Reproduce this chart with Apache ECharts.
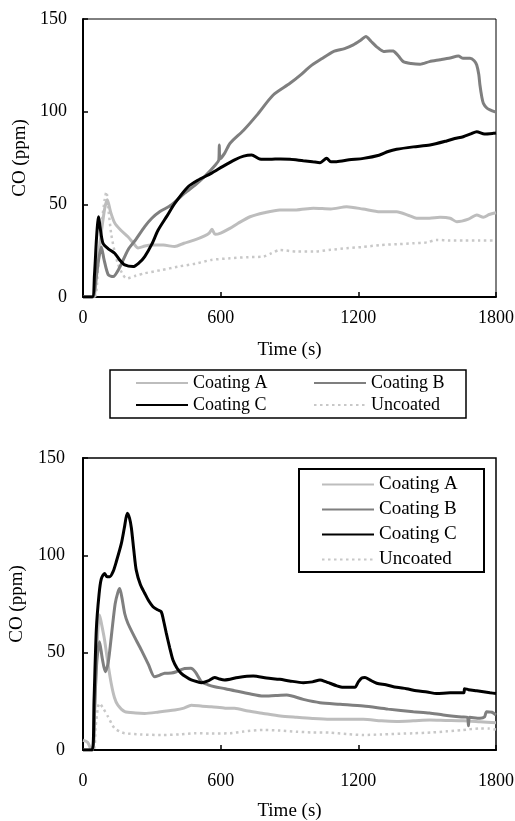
<!DOCTYPE html>
<html>
<head>
<meta charset="utf-8">
<script src="https://cdn.jsdelivr.net/npm/echarts@6/dist/echarts.min.js"></script>
<style>
  html, body { margin: 0; padding: 0; background: #fff; }
  #main { width: 515px; height: 821px; }
</style>
</head>
<body>
<div id="main"></div>
<script>
// 数据: [时间(s), CO(ppm)]
var xTicks = [0, 600, 1200, 1800];
var yTicks = [0, 50, 100, 150];
var names = ['Coating A', 'Coating B', 'Coating C', 'Uncoated'];

// 上图
var topA = [[0,0],[45,0],[60,15],[80,35],[95,48],[106,52.5],[120,46],[138,40],[165,36],[196,32.5],[220,29],[240,26.5],[270,27.5],[298,28],[350,28],[400,27.2],[440,29],[487,30.8],[530,33],[550,34.5],[562,36.5],[576,33.8],[600,34.5],[640,37],[676,39.8],[728,43.3],[790,45.5],[858,47],[930,47],[1004,47.9],[1080,47.5],[1149,48.7],[1220,47.5],[1294,46],[1367,46],[1420,44],[1454,42.5],[1510,42.5],[1556,43],[1600,42.5],[1629,40.6],[1680,42],[1716,44.3],[1745,43],[1770,44.5],[1800,45.5]];
var topB = [[0,0],[42,0],[55,8],[68,20],[80,27],[92,20],[110,12],[131,11],[160,16],[196,25.4],[230,31],[269,38],[300,42.5],[334,46],[385,49.6],[443,56],[490,60.5],[530,65],[575,71],[592,74],[594,82],[597,74.5],[617,77.5],[641,83],[700,90],[757,98],[829,109],[902,115.3],[950,120],[989,124.3],[1040,128.5],[1091,132.4],[1140,134],[1178,136],[1210,138.5],[1233,140.5],[1255,138],[1280,135],[1310,132.5],[1335,132.8],[1352,132.7],[1375,130],[1396,127],[1430,126],[1469,125.6],[1510,127],[1556,128],[1600,129],[1636,130],[1657,128.8],[1687,128.8],[1705,127.5],[1716,125.2],[1725,120],[1730,114.4],[1738,108],[1745,104.5],[1760,102],[1774,101],[1800,99.7]];
var topC = [[0,0],[40,0],[50,12],[58,30],[64,40],[68,43.3],[74,38],[87,29],[110,26],[138,23.6],[160,20],[182,17.3],[218,16.4],[245,18.5],[269,21.8],[300,28.5],[327,36],[365,43.5],[400,50.5],[458,59.5],[500,63],[559,66.7],[610,70.5],[661,74],[700,76],[735,76.6],[770,74.5],[815,74.3],[860,74.5],[902,74.3],[960,73.5],[1000,73],[1033,72.5],[1062,74.8],[1080,73],[1105,73],[1160,74],[1222,74.8],[1290,76.5],[1330,78.5],[1367,79.7],[1440,81],[1512,82],[1585,84.2],[1620,85.5],[1657,86.5],[1690,88],[1716,89.2],[1750,88],[1788,88.3],[1800,88.5]];
var topU = [[0,0],[50,0],[65,15],[80,38],[95,53],[102,56.8],[110,48],[123,34],[137,25],[152,18],[170,13],[189,10],[230,11.5],[269,12.8],[340,14.5],[414,16.4],[490,18],[559,20],[641,20.9],[720,21.5],[786,21.8],[820,23.5],[858,25.4],[930,24.5],[1004,24.5],[1080,25.5],[1149,26.3],[1220,27],[1294,28],[1370,28.5],[1440,29],[1500,29.5],[1541,30.8],[1600,30.5],[1658,30.5],[1730,30.5],[1800,30.5]];

// 下图
var botA = [[0,5],[20,4],[38,0],[45,2],[55,35],[65,62],[72,69.3],[82,64],[94,56.5],[108,45],[123,34.2],[137,27],[152,23],[182,19.7],[230,19],[269,18.8],[330,19.5],[400,20.5],[440,21.5],[472,23],[520,22.5],[559,22.2],[620,21.5],[661,21.4],[720,20],[786,18.8],[860,17.5],[931,16.8],[1000,16.2],[1076,15.8],[1150,15.8],[1222,15.8],[1300,15],[1367,14.7],[1440,15],[1512,15.4],[1580,15.2],[1657,15],[1730,14.5],[1800,14]];
var botB = [[0,0],[40,0],[50,20],[60,45],[72,55.6],[84,47],[97,40.2],[110,45],[125,60],[140,75],[152,81],[160,83],[170,78],[182,70],[196,65],[225,58],[254,51.4],[285,44],[312,37.6],[335,38.5],[356,39.4],[385,39.5],[407,40.2],[443,41.9],[470,42],[490,40],[516,35.1],[545,33.5],[574,32.5],[620,31.5],[661,30.4],[720,29],[786,27.7],[840,28],[888,28.2],[960,26],[1033,24.3],[1120,23.5],[1222,22.6],[1330,21],[1440,19.7],[1510,19],[1570,18],[1650,17],[1675,16.8],[1680,12.5],[1685,16.8],[1730,16.3],[1750,17],[1759,19.7],[1780,19.5],[1800,18]];
var botC = [[0,0],[40,0],[48,25],[58,61.6],[70,80],[80,88],[94,90.7],[105,89],[116,89],[131,91.6],[145,96.7],[167,106],[180,114],[193,121.6],[203,119],[211,113.9],[222,102],[232,92.4],[250,85],[269,80.5],[287,76.5],[305,73.6],[325,72],[341,71],[352,66],[363,60],[378,52.5],[392,46.2],[410,42],[428,39.4],[450,37.5],[472,36],[500,35],[516,34.6],[545,35.5],[574,37.3],[595,36.5],[617,36],[676,37.3],[742,38],[800,37],[858,36.3],[900,35.5],[960,34.6],[1000,35],[1033,36],[1060,35],[1076,34.3],[1105,33],[1134,32.2],[1185,32.2],[1200,35],[1215,37],[1229,37.3],[1250,36],[1280,34.3],[1320,33.5],[1367,32.2],[1410,31.5],[1454,30.4],[1500,29.8],[1541,29],[1600,29.4],[1660,29.4],[1663,31.5],[1680,31],[1716,30.4],[1774,29.4],[1800,29]];
var botU = [[0,0],[45,0],[55,12],[65,22],[72,24],[90,21],[109,17.1],[125,13.5],[138,11.1],[160,9.5],[182,8.6],[250,8],[341,7.7],[420,8],[487,8.6],[560,8.5],[641,8.6],[700,9.5],[786,10.3],[860,10],[931,9.4],[1000,9],[1076,8.9],[1150,8.2],[1222,7.7],[1300,8],[1440,8.6],[1520,9],[1585,9.6],[1650,10.2],[1730,11.1],[1770,11],[1800,10.5]];

var colors = ['#bdbdbd', '#7f7f7f', '#000000', '#c8c8c8'];
var font = '"Liberation Serif", "Times New Roman", serif';

function xAxis(idx, margin, gap) {
    return {
        type: 'value', gridIndex: idx, min: xTicks[0], max: xTicks[xTicks.length - 1], interval: 600,
        name: 'Time (s)', nameLocation: 'middle', nameGap: gap,
        nameTextStyle: { fontFamily: font, fontSize: 19, color: '#000' },
        axisLine: { lineStyle: { color: '#000', width: 2 } },
        axisTick: { inside: true, length: 5, lineStyle: { color: '#000', width: 1.5 } },
        axisLabel: { fontFamily: font, fontSize: 18, color: '#000', margin: margin,
                     formatter: function (v) { return String(v); } },
        splitLine: { show: false }
    };
}
function yAxis(idx, margin, gap) {
    return {
        type: 'value', gridIndex: idx, min: yTicks[0], max: yTicks[yTicks.length - 1], interval: 50,
        name: 'CO (ppm)', nameLocation: 'middle', nameGap: gap, nameRotate: 90,
        nameTextStyle: { fontFamily: font, fontSize: 19, color: '#000' },
        axisLine: { lineStyle: { color: '#000', width: 2 } },
        axisTick: { inside: true, length: 5, lineStyle: { color: '#000', width: 1.5 } },
        axisLabel: { fontFamily: font, fontSize: 18, color: '#000', margin: margin,
                     formatter: function (v) { return String(v); } },
        splitLine: { show: false }
    };
}
function line(name, data, idx, w) {
    var i = names.indexOf(name);
    return {
        name: name, type: 'line', xAxisIndex: idx, yAxisIndex: idx, data: data,
        showSymbol: false, symbol: 'none', smooth: 0.25, animation: false,
        itemStyle: { color: colors[i] },
        lineStyle: { color: colors[i], width: w, type: name === 'Uncoated' ? [2.5, 3.5] : 'solid' }
    };
}
function legend(items, left, top, gap, size) {
    return {
        orient: 'vertical', left: left, top: top, padding: 0, itemGap: gap, itemWidth: 52, itemHeight: 14,
        selectedMode: false, data: items,
        itemStyle: { opacity: 0, borderWidth: 0 },
        textStyle: { fontFamily: font, fontSize: size, color: '#000' }
    };
}

var myChart = echarts.init(document.getElementById('main'));
var option = {
    backgroundColor: '#fff',
    animation: false,
    grid: [
        { left: 83, top: 19, width: 413, height: 278, show: true, borderColor: '#000', borderWidth: 1, outerBoundsMode: 'none' },
        { left: 83, top: 458, width: 413, height: 292, show: true, borderColor: '#000', borderWidth: 1.5, outerBoundsMode: 'none' }
    ],
    xAxis: [xAxis(0, 12, 44), xAxis(1, 22, 52)],
    yAxis: [yAxis(0, 16, 43), yAxis(1, 18, 56)],
    legend: [
        legend(['Coating A', 'Coating C'], 135, 374, 4, 18),
        legend(['Coating B', 'Uncoated'], 313, 374, 4, 18),
        legend(names, 321, 475, 6, 19)
    ],
    graphic: [
        { type: 'rect', shape: { x: 110, y: 370, width: 356, height: 48 }, style: { fill: 'none', stroke: '#000', lineWidth: 1.5 } },
        { type: 'rect', shape: { x: 299, y: 469, width: 185, height: 103 }, style: { fill: '#fff', stroke: '#000', lineWidth: 2 }, z: 0 }
    ],
    series: [
        line('Uncoated', topU, 0, 2.5),
        line('Coating A', topA, 0, 3),
        line('Coating B', topB, 0, 3),
        line('Coating C', topC, 0, 3),
        line('Uncoated', botU, 1, 2.5),
        line('Coating A', botA, 1, 3),
        line('Coating B', botB, 1, 3),
        line('Coating C', botC, 1, 3)
    ]
};
myChart.setOption(option);
</script>
</body>
</html>
